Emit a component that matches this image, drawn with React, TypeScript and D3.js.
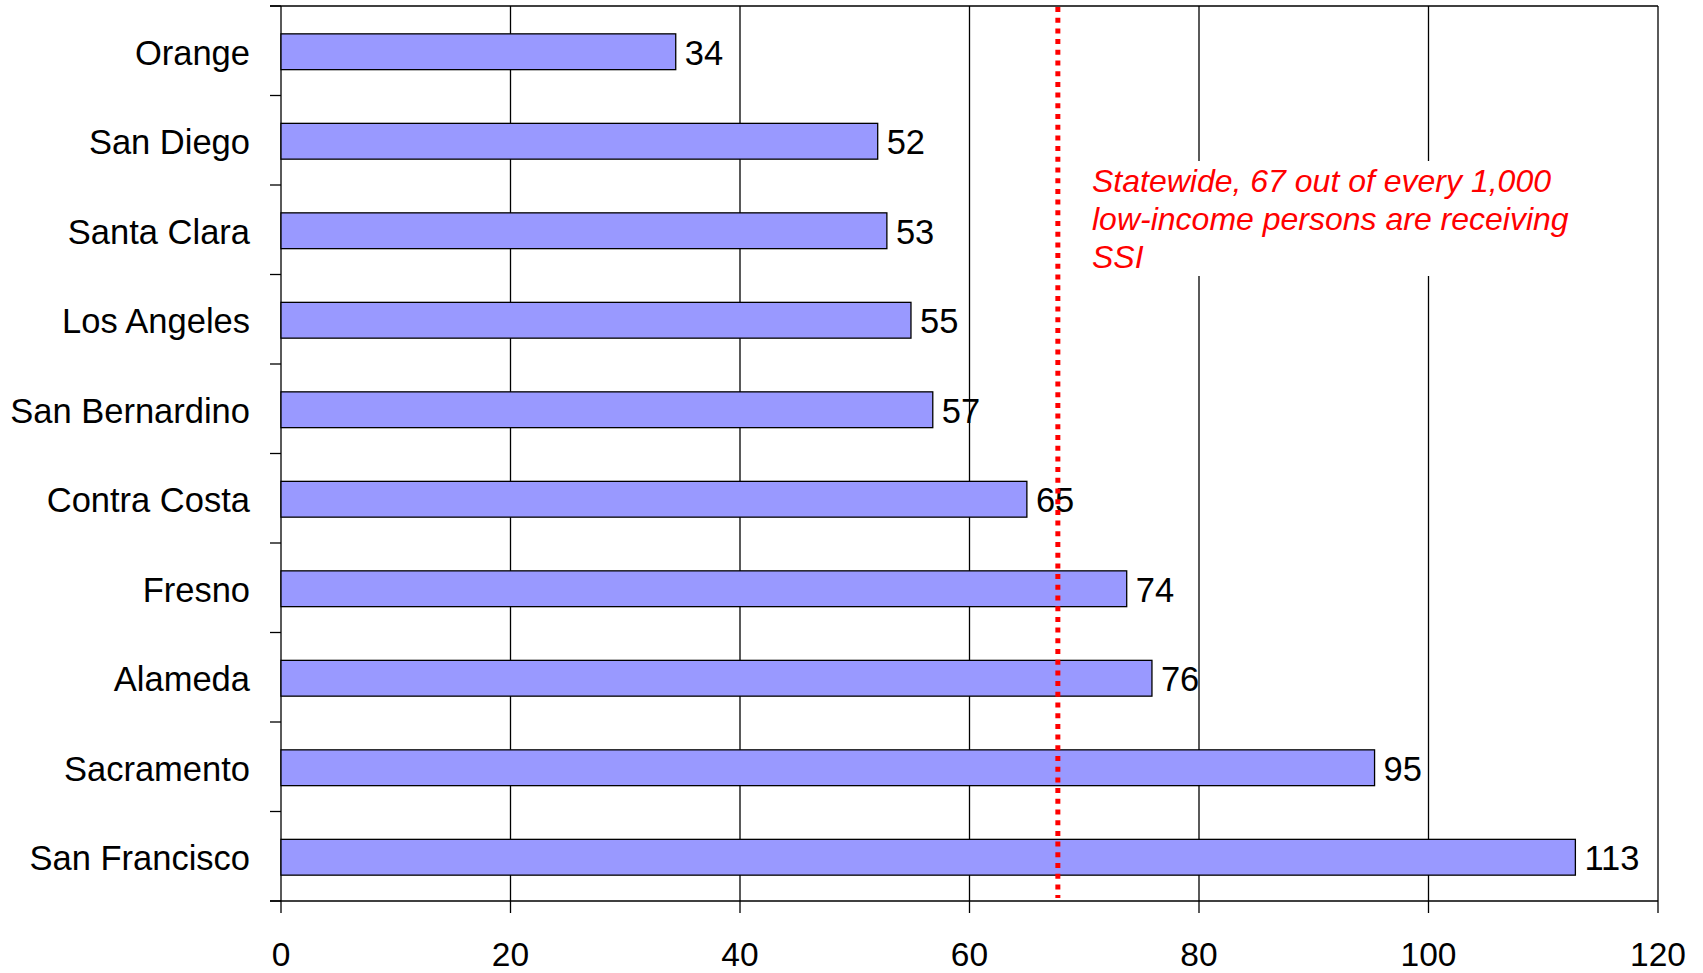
import React from "react";
import * as d3 from "d3";

const categories = [
  "Orange",
  "San Diego",
  "Santa Clara",
  "Los Angeles",
  "San Bernardino",
  "Contra Costa",
  "Fresno",
  "Alameda",
  "Sacramento",
  "San Francisco",
];
const values = [34.4, 52.0, 52.8, 54.9, 56.8, 65.0, 73.7, 75.9, 95.3, 112.8];
const xTicks = [0, 20, 40, 60, 80, 100, 120];
const statewide = 67.7;
const noteLines = [
  "Statewide, 67 out of every 1,000",
  "low-income persons are receiving",
  "SSI",
];

const W = 1703;
const H = 973;
const left = 281;
const right = 1658;
const top = 6;
const bottom = 901;

export default function App() {
  const x = d3.scaleLinear().domain([0, 120]).range([left, right]);
  const y = d3
    .scaleBand<string>()
    .domain(categories)
    .range([top, bottom])
    .paddingInner(0.6)
    .paddingOuter(0.3);
  const step = y.step();
  const bounds = d3.range(categories.length + 1).map((i) => top + i * ((bottom - top) / categories.length));
  const font = "Liberation Sans, Arial, Helvetica, sans-serif";

  return (
    <svg
      width={W}
      height={H}
      style={{ position: "absolute", left: 0, top: 0, background: "#fff" }}
      fontFamily={font}
    >
      <rect x={0} y={0} width={W} height={H} fill="#fff" />
      {/* vertical gridlines */}
      {xTicks.map((t) => (
        <line
          key={"g" + t}
          x1={x(t)}
          x2={x(t)}
          y1={top}
          y2={bottom + 12}
          stroke="#000"
          strokeWidth={1.3}
        />
      ))}
      {/* top border */}
      <line x1={left - 11} x2={right} y1={top} y2={top} stroke="#000" strokeWidth={1.3} />
      {/* bottom axis */}
      <line x1={left - 11} x2={right} y1={bottom} y2={bottom} stroke="#000" strokeWidth={1.5} />
      {/* y ticks */}
      {bounds.map((b, i) => (
        <line key={"yt" + i} x1={left - 11} x2={left} y1={b} y2={b} stroke="#000" strokeWidth={1.3} />
      ))}
      {/* annotation background */}
      <rect x={1078} y={161} width={520} height={115} fill="#fff" />
      {noteLines.map((l, i) => (
        <text
          key={"n" + i}
          x={1092}
          y={192 + i * 38}
          fontSize={32}
          fontStyle="italic"
          fill="#ff0000"
        >
          {l}
        </text>
      ))}
      {/* bars */}
      {categories.map((c, i) => {
        const yc = top + (i + 0.5) * step + 1;
        const bh = step * 0.4;
        return (
          <g key={c}>
            <rect
              x={x(0)}
              y={yc - bh / 2}
              width={x(values[i]) - x(0)}
              height={bh}
              fill="#9999FF"
              stroke="#000"
              strokeWidth={1.3}
            />
            <text
              x={x(values[i]) + 9}
              y={yc}
              dy="0.38em"
              fontSize={34.5}
              fill="#000"
            >
              {Math.round(values[i])}
            </text>
            <text x={250} y={yc} dy="0.38em" fontSize={34.5} textAnchor="end" fill="#000">
              {c}
            </text>
          </g>
        );
      })}
      {/* statewide line */}
      <line
        x1={x(statewide)}
        x2={x(statewide)}
        y1={top + 1}
        y2={bottom - 3}
        stroke="#ff0000"
        strokeWidth={5}
        strokeDasharray="5,5.7"
      />
      {/* x labels */}
      {xTicks.map((t) => (
        <text key={"xl" + t} x={x(t)} y={966} fontSize={33.5} textAnchor="middle" fill="#000">
          {t}
        </text>
      ))}
    </svg>
  );
}
